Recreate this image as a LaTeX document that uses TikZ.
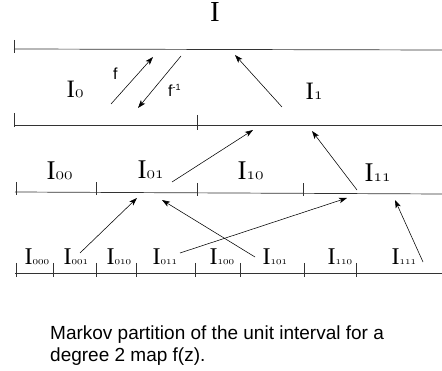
\documentclass[tikz,border=0pt]{standalone}
\usepackage{fontspec}
\usepackage{amsmath}
\usetikzlibrary{arrows.meta}
\newfontfamily\labelfont{Liberation Serif}
\newfontfamily\capfont{Liberation Sans}
%% interval label: I with small old-style digits
\newcommand{\ivl}[3]{{\labelfont\fontsize{#1}{#1}\selectfont I}{\fontsize{#2}{#2}\selectfont$\mathnormal{#3}$}}
\begin{document}
\begin{tikzpicture}[
  x=1pt, y=-1pt,
  >={Stealth[length=8pt, width=5.5pt, inset=2pt]},
  %% line styles
  level/.style={draw=black!80, line width=0.7pt},
  tick/.style={draw=black!80, line width=0.7pt},
  map/.style={->, draw=black, line width=0.55pt},
  %% text styles
  top/.style={anchor=base west, inner sep=0pt},
  mid/.style={anchor=base west, inner sep=0pt},
  low/.style={anchor=base west, inner sep=0pt},
  fname/.style={anchor=base west, inner sep=0pt, font=\capfont\fontsize{16}{16}\selectfont},
  caption/.style={anchor=base west, inner sep=0pt, align=left,
    font=\capfont\fontsize{19}{22}\selectfont},
]
\useasboundingbox (0,0) rectangle (442,371);

%% ── LEVELS ───────────────────────────────────────────────────────────────
\draw[level] (14,49) -- (442,50);
\draw[tick]  (14,40) -- (14,53);

\draw[level] (14,125) -- (442,125);
\draw[tick]  (14,113) -- (14,127);
\draw[tick]  (197,115) -- (197,130);

\draw[level] (15,192) -- (442,194);
\foreach \x/\y in {16/192, 96/192.4, 197/192.9, 303/193.4}
  \draw[tick] (\x,\y-10) -- (\x,\y+3);

\draw[level] (15,273) -- (442,273);
\foreach \x in {16, 53, 96, 136, 195, 240, 304, 356}
  \draw[tick] (\x,263) -- (\x,277);

%% ── LABELS ───────────────────────────────────────────────────────────────
\node[anchor=base, inner sep=0pt] (lblI) at (215,22)
  {\labelfont\fontsize{29}{29}\selectfont I};
\node[top] (lbl0) at (66.5,98)  {\ivl{25}{19}{0}};
\node[top] (lbl1) at (305.5,100) {\ivl{25}{19}{1}};

\node[mid] (lbl00) at (46.5,180)  {\ivl{27}{19}{00}};
\node[mid] (lbl01) at (137.5,179) {\ivl{27}{19}{01}};
\node[mid] (lbl10) at (237.5,180) {\ivl{27}{19}{10}};
\node[mid] (lbl11) at (364.5,182) {\ivl{27}{19}{11}};

\node[low] (lbl000) at (24.5,265)  {\ivl{24}{11}{000}};
\node[low] (lbl001) at (63.5,265)  {\ivl{24}{11}{001}};
\node[low] (lbl010) at (106.5,265) {\ivl{24}{11}{010}};
\node[low] (lbl011) at (152.5,265) {\ivl{24}{11}{011}};
\node[low] (lbl100) at (209.5,265) {\ivl{24}{11}{100}};
\node[low] (lbl101) at (262.5,265) {\ivl{24}{11}{101}};
\node[low] (lbl110) at (327.5,265) {\ivl{24}{11}{110}};
\node[low] (lbl111) at (391.5,265) {\ivl{24}{11}{111}};

\node[fname] (fwd) at (113,80) {f};
\node[fname] (inv) at (168,97) {f\textsuperscript{\fontsize{9}{9}\selectfont -1}};

%% ── MAP ARROWS ───────────────────────────────────────────────────────────
%% top level
\coordinate (f0)  at (111,104); \coordinate (f1)  at (153,57);
\coordinate (g0)  at (181,56);  \coordinate (g1)  at (138,108);
\coordinate (h0)  at (282,107); \coordinate (h1)  at (235,55);
\draw[map] (f0) -- (f1);
\draw[map] (g0) -- (g1);
\draw[map] (h0) -- (h1);

%% second level
\coordinate (m01) at (172,182); \coordinate (n01) at (253,130);
\coordinate (m11) at (357,190); \coordinate (n11) at (312,131);
\draw[map] (m01) -- (n01);
\draw[map] (m11) -- (n11);

%% third level
\coordinate (p001) at (80,253);  \coordinate (q001) at (137,198);
\coordinate (p101) at (255,257); \coordinate (q101) at (162,200);
\coordinate (p011) at (180,253); \coordinate (q011) at (347,198);
\coordinate (p111) at (423,262); \coordinate (q111) at (395,200);
\draw[map] (p001) -- (q001);
\draw[map] (p101) -- (q101);
\draw[map] (p011) -- (q011);
\draw[map] (p111) -- (q111);

%% ── CAPTION ──────────────────────────────────────────────────────────────
\node[caption] (cap) at (50,362)
  {Markov partition of the unit interval for a\\degree 2 map f(z).};

\end{tikzpicture}
\end{document}
